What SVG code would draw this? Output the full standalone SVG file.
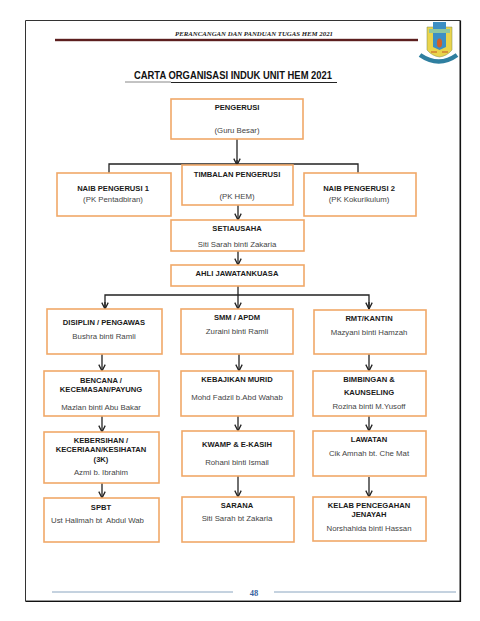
<svg xmlns="http://www.w3.org/2000/svg" width="480" height="621" viewBox="0 0 480 621">
<style>
text{font-family:"Liberation Sans",Arial,sans-serif;text-anchor:middle;fill:#222}
.h{font-size:7.600px;font-weight:700;fill:#1a1a1a}
.s{font-size:7.800px;fill:#444}
.b{fill:#fff;stroke:#f0a868;stroke-width:1.600}
.c{fill:none;stroke:#222;stroke-width:1.300}
.a{marker-end:url(#arr)}
</style>
<defs>
<marker id="arr" viewBox="0 0 10 10" refX="9" refY="5" markerWidth="8" markerHeight="8" markerUnits="userSpaceOnUse" orient="auto"><path d="M1 1L9 5L1 9" fill="none" stroke="#222" stroke-width="1.600"/></marker>
</defs>
<rect width="480" height="621" fill="#fff"/>
<g id="page">
<path d="M25.500 20.500H460V601H25.500Z" fill="none" stroke="#333" stroke-width="1"/>
<path d="M460.500 20.500V601.500H25.500" fill="none" stroke="#111" stroke-width="1.200"/>
<text x="254" y="36" style="font-family:'Liberation Serif',serif;font-size:6.800px;font-style:italic;font-weight:700">PERANCANGAN DAN PANDUAN TUGAS HEM 2021</text>
<rect x="55" y="38.800" width="363" height="2.400" fill="#5c1f1f"/>
<text x="233" y="79" textLength="198" lengthAdjust="spacingAndGlyphs" style="font-size:10.500px;font-weight:700;fill:#111">CARTA ORGANISASI INDUK UNIT HEM 2021</text>
<path d="M125 82H171" stroke="#888" stroke-width="1" fill="none"/>
<path d="M171 82.500H337" stroke="#222" stroke-width="1.200" fill="none"/>
<path d="M52 592H233M274 592H456" stroke="#8aa5c0" stroke-width="1" fill="none"/>
<text x="254" y="596" style="font-family:'Liberation Serif',serif;font-size:8.500px;font-weight:700;fill:#3a64a0">48</text>
</g>
<g id="logo">
<path d="M427 27H452V50Q447 56 439.500 57Q432 56 427 50Z" fill="#e9d44c" stroke="#7a8a50" stroke-width=".5"/>
<path d="M433 22H446V47L439.500 50L433 47Z" fill="#3d8fc4"/>
<path d="M429 29H450V33H429Z" fill="#8fc7a0"/>
<ellipse cx="439.500" cy="43" rx="2.600" ry="4.500" fill="#d0602a"/>
<path d="M420 55Q439 68 457 55" fill="none" stroke="#2f7fa0" stroke-width="4.500"/>
<path d="M431 52H437M442 52H448" stroke="#d08030" stroke-width="1.500"/>
</g>
<g id="connectors" class="c">
<path d="M237 139V164"/>
<path d="M109 173V164H358V173"/>
<path d="M237 160V165" class="a"/>
<path d="M238 205V220" class="a"/>
<path d="M238 251V265" class="a"/>
<path d="M238 286V309" class="a"/>
<path d="M105 309V295H369V309" />
<path d="M105 302V309" class="a"/>
<path d="M369 302V309" class="a"/>
<path d="M102 354V371" class="a"/>
<path d="M239 354V371" class="a"/>
<path d="M369 354V371" class="a"/>
<path d="M102 413V432" class="a"/>
<path d="M238 413V431" class="a"/>
<path d="M369 413V431" class="a"/>
<path d="M102 479V498" class="a"/>
<path d="M238 476V497" class="a"/>
<path d="M369 477V497" class="a"/>
</g>
<g id="n-pengerusi"><rect class="b" x="171" y="99" width="132" height="40"/><text class="h" x="237" y="110">PENGERUSI</text><text class="s" x="237" y="133">(Guru Besar)</text></g>
<g id="n-naib1"><rect class="b" x="57" y="173" width="114" height="43"/><text class="h" x="113" y="191">NAIB PENGERUSI 1</text><text class="s" x="113" y="202">(PK Pentadbiran)</text></g>
<g id="n-timbalan"><rect class="b" x="182" y="165" width="111" height="40"/><text class="h" x="237" y="177">TIMBALAN PENGERUSI</text><text class="s" x="237" y="199">(PK HEM)</text></g>
<g id="n-naib2"><rect class="b" x="304" y="173" width="112" height="43"/><text class="h" x="359" y="191">NAIB PENGERUSI 2</text><text class="s" x="359" y="202">(PK Kokurikulum)</text></g>
<g id="n-setiausaha"><rect class="b" x="171" y="220" width="133" height="31"/><text class="h" x="237" y="231">SETIAUSAHA</text><text class="s" x="237" y="247">Siti Sarah binti Zakaria</text></g>
<g id="n-ahli"><rect class="b" x="171" y="265" width="133" height="21"/><text class="h" x="237" y="276">AHLI JAWATANKUASA</text></g>
<g id="n-disiplin"><rect class="b" x="47" y="309" width="115" height="45"/><text class="h" x="104" y="325">DISIPLIN / PENGAWAS</text><text class="s" x="104" y="339">Bushra binti Ramli</text></g>
<g id="n-smm"><rect class="b" x="181" y="309" width="112" height="45"/><text class="h" x="237" y="320">SMM / APDM</text><text class="s" x="237" y="334">Zuraini binti Ramli</text></g>
<g id="n-rmt"><rect class="b" x="314" y="310" width="112" height="44"/><text class="h" x="369" y="321">RMT/KANTIN</text><text class="s" x="369" y="335">Mazyani binti Hamzah</text></g>
<g id="n-bencana"><rect class="b" x="44" y="371" width="115" height="45"/><text class="h" x="101" y="383">BENCANA /</text><text class="h" x="101" y="392">KECEMASAN/PAYUNG</text><text class="s" x="101" y="410">Mazlan binti Abu Bakar</text></g>
<g id="n-kebajikan"><rect class="b" x="181" y="371" width="112" height="45"/><text class="h" x="237" y="382">KEBAJIKAN MURID</text><text class="s" x="237" y="400">Mohd Fadzil b.Abd Wahab</text></g>
<g id="n-bimbingan"><rect class="b" x="313" y="371" width="113" height="45"/><text class="h" x="369" y="382">BIMBINGAN &amp;</text><text class="h" x="369" y="395">KAUNSELING</text><text class="s" x="369" y="409">Rozina binti M.Yusoff</text></g>
<g id="n-kebersihan"><rect class="b" x="44" y="432" width="115" height="51"/><text class="h" x="101" y="443">KEBERSIHAN /</text><text class="h" x="101" y="452">KECERIAAN/KESIHATAN</text><text class="h" x="101" y="462">(3K)</text><text class="s" x="101" y="475">Azmi b. Ibrahim</text></g>
<g id="n-kwamp"><rect class="b" x="182" y="431" width="112" height="45"/><text class="h" x="237" y="447">KWAMP &amp; E-KASIH</text><text class="s" x="237" y="465">Rohani binti Ismail</text></g>
<g id="n-lawatan"><rect class="b" x="313" y="431" width="113" height="45"/><text class="h" x="369" y="442">LAWATAN</text><text class="s" x="369" y="456">Cik Amnah bt. Che Mat</text></g>
<g id="n-spbt"><rect class="b" x="44" y="498" width="115" height="44"/><text class="h" x="101" y="510">SPBT</text><text class="s" x="97.500" y="523" xml:space="preserve">Ust Halimah bt  Abdul Wab</text></g>
<g id="n-sarana"><rect class="b" x="182" y="497" width="112" height="45"/><text class="h" x="237" y="508">SARANA</text><text class="s" x="237" y="521">Siti Sarah bt Zakaria</text></g>
<g id="n-kelab"><rect class="b" x="313" y="497" width="113" height="44"/><text class="h" x="369" y="508">KELAB PENCEGAHAN</text><text class="h" x="369" y="517">JENAYAH</text><text class="s" x="369" y="531">Norshahida binti Hassan</text></g>
</svg>
